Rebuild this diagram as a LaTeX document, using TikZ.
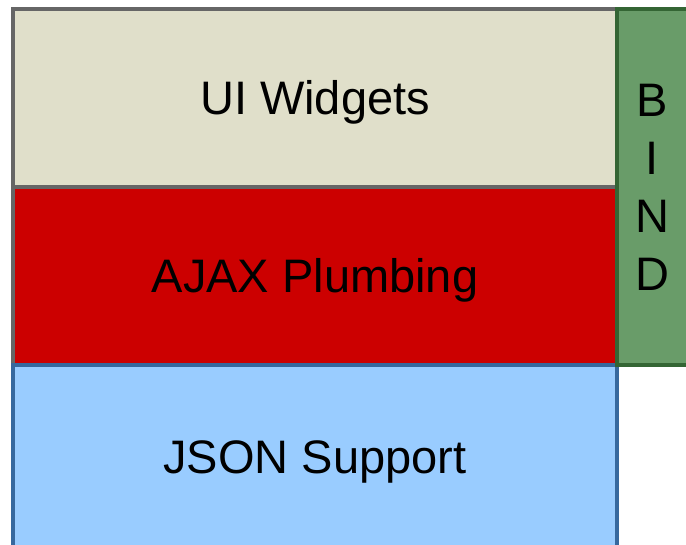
\documentclass[tikz,border=0pt]{standalone}
\usepackage{fontspec}
\setmainfont{Liberation Sans}
\definecolor{uifill}{HTML}{E0DFCA}
\definecolor{greyline}{HTML}{666666}
\definecolor{ajaxfill}{HTML}{CC0000}
\definecolor{jsonfill}{HTML}{99CCFF}
\definecolor{jsonline}{HTML}{36689E}
\definecolor{bindfill}{HTML}{699C69}
\definecolor{bindline}{HTML}{346534}
\tikzset{
  box/.style={rectangle,inner sep=0pt,line width=4pt,
    font=\fontsize{47}{58}\selectfont},
  layer/.style={box,minimum width=604pt,text height=34pt,text depth=0pt},
}
\begin{document}
\begin{tikzpicture}[x=1pt,y=-1pt]
      \useasboundingbox (0,0) rectangle (686,545);
      \node[layer,fill=uifill,draw=greyline,minimum height=178pt] (ui) at (315,98) {UI Widgets};
      \node[layer,fill=ajaxfill,draw=greyline,minimum height=178pt] (ajax) at (315,276) {AJAX Plumbing};
      \node[layer,fill=jsonfill,draw=jsonline,minimum height=184pt] (json) at (315,457) {JSON Support};
      \node[box,fill=bindfill,draw=bindline,minimum width=71pt,minimum height=356pt,
        align=center] (bind) at (652.5,187) {B\\I\\N\\D};
\end{tikzpicture}
\end{document}
